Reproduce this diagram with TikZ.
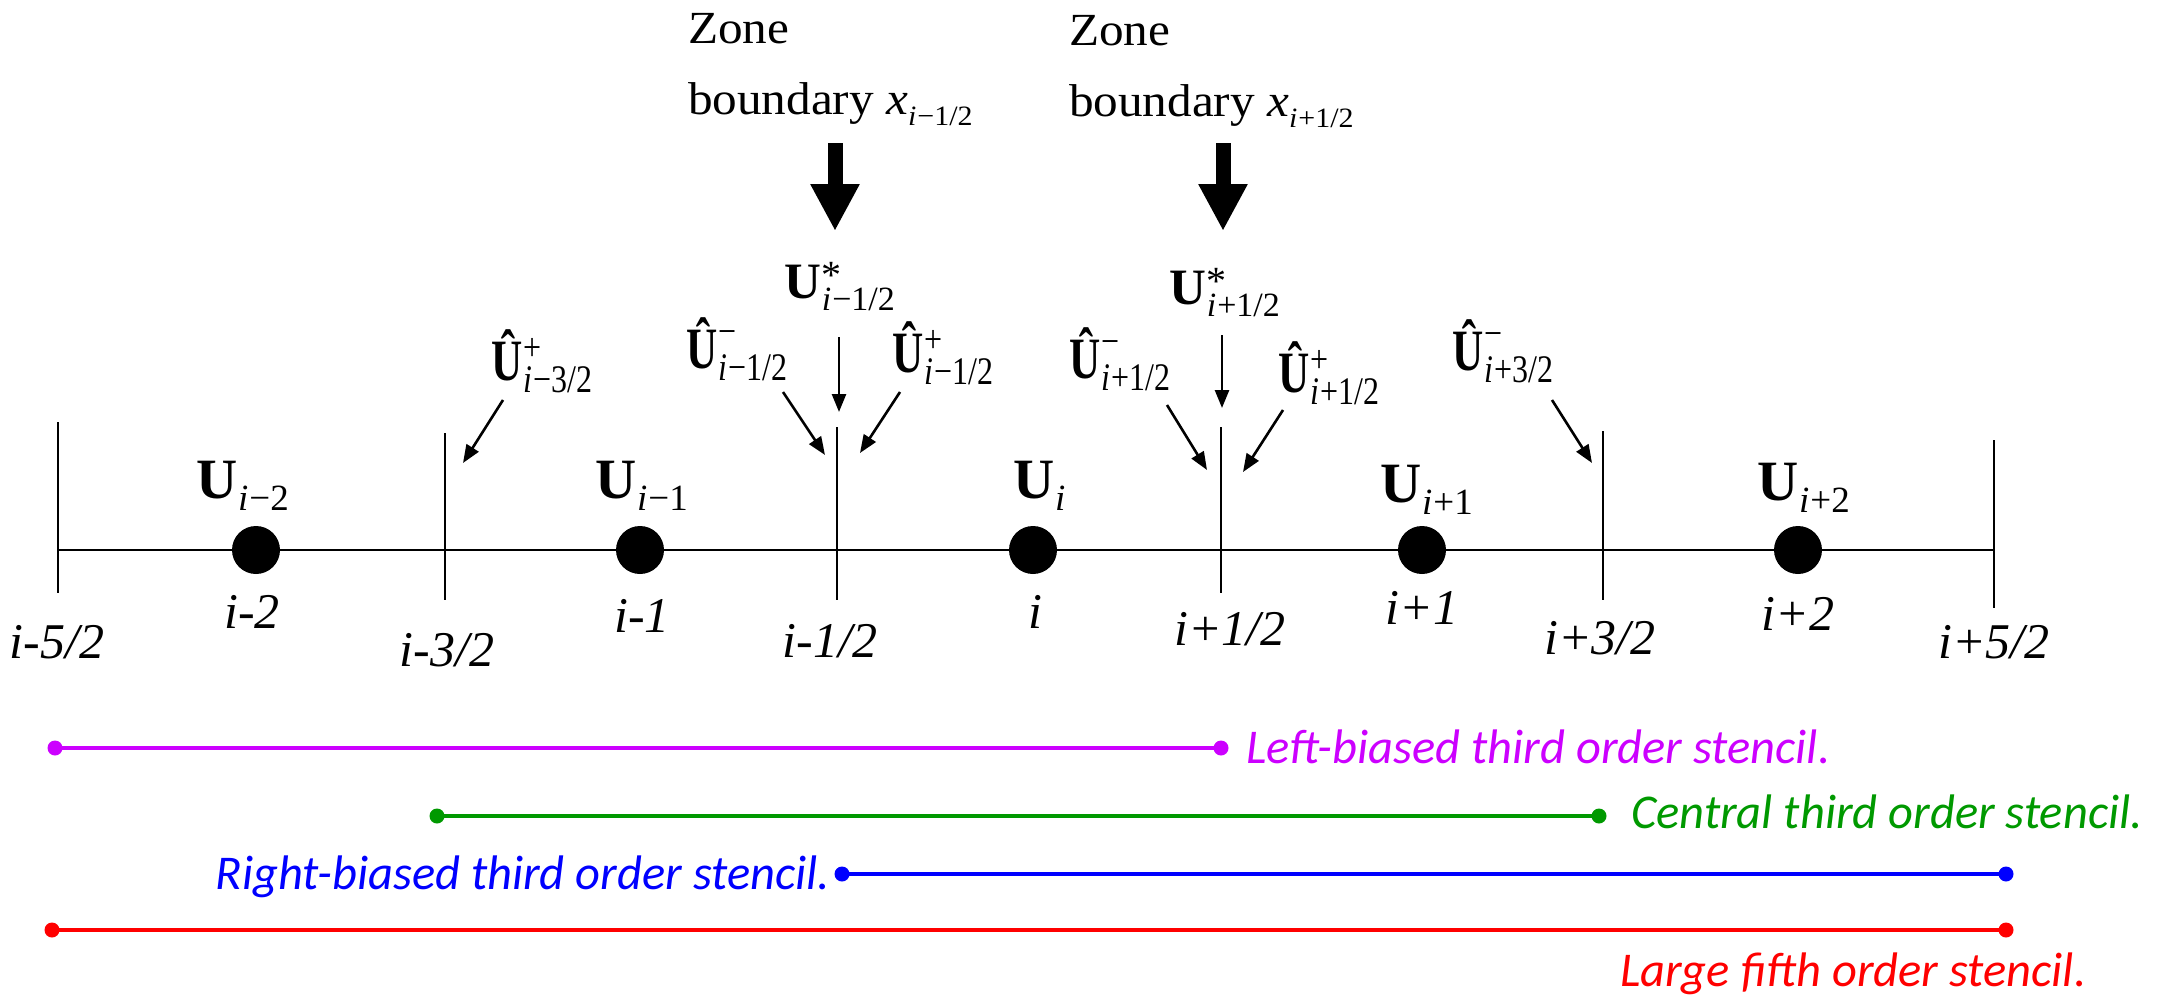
\documentclass[tikz,border=0pt]{standalone}
\usepackage{graphicx}
\usepackage{fontspec}
\setmainfont{Liberation Serif}
\newfontfamily\zonefont[FakeStretch=1.07]{Liberation Serif}
\newfontfamily\idxfont{Liberation Serif}
\newfontfamily\ufont[FakeStretch=0.9]{Liberation Serif}
\newfontfamily\stfont{Carlito}
\usetikzlibrary{arrows.meta}
\definecolor{cmag}{RGB}{204,0,255}
\definecolor{cgrn}{RGB}{0,153,0}
\definecolor{cblu}{RGB}{0,0,255}
\definecolor{cred}{RGB}{255,0,0}
\newcommand{\fs}[1]{\fontsize{#1}{#1}\selectfont}
\newcommand{\sbs}[1]{{\fs{28}#1}}
% hat labels: stretched-looking smaller labels
\newcommand{\hlab}[3]{\scalebox{1}[1.22]{{\ufont\bfseries\fs{48}Û}\kern1pt\makebox[0pt][l]{\raisebox{#2}{\fs{32}#1}}\raisebox{-10pt}{\fs{32}#3}}}
% generic label: #1 U size, #2 script size, #3 sup, #4 raise, #5 sub
\newcommand{\glab}[5]{{\bfseries\fs{#1}U}\kern1pt\makebox[0pt][l]{\raisebox{#4}{\fs{#2}#3}}\raisebox{-12pt}{\fs{#2}#5}}
\tikzset{
  txt/.style={inner sep=0pt, outer sep=0pt},
  zone/.style={txt, anchor=base west, font=\zonefont\fs{46}},
  idx/.style={txt, anchor=base, font=\idxfont\itshape\fs{50}},
  ulab/.style={txt, anchor=base west},
  tick/.style={line width=2.8pt},
  axis/.style={line width=2.8pt},
  dot/.style={fill=black},
  ptr/.style={line width=2.6pt, -{Triangle[length=18pt,width=14pt]}},
  bigarrow/.style={line width=15pt, -{Triangle[length=47pt,width=46pt]}},
  stencil/.style={line width=4pt},
  sdot/.style={radius=7.5pt},
  stxt/.style={txt, font=\stfont\itshape\fs{48.5}},
}
\begin{document}
\begin{tikzpicture}[x={(1pt,0pt)}, y={(0pt,-1pt)}]
\useasboundingbox (0,0) rectangle (2158,998);

% zone boundary texts
\node[zone] (z1) at (688,44) {Zone};
\node[zone] (b1) at (688,114) {boundary \textit{x}\raisebox{-11pt}{\sbs{\textit{i}\kern1pt−1/2}}};
\node[zone] (z2) at (1069,46) {Zone};
\node[zone] (b2) at (1069,116) {boundary \textit{x}\raisebox{-11pt}{\sbs{\textit{i}\kern1pt+1/2}}};

% big arrows
\coordinate (ba1s) at (835,143); \coordinate (ba1e) at (835,231);
\coordinate (ba2s) at (1223,143); \coordinate (ba2e) at (1223,231);
\draw[bigarrow] (ba1s) -- (ba1e);
\draw[bigarrow] (ba2s) -- (ba2e);

% interface labels
\node[ulab] (us1) at (784,298) {\glab{51}{34}{\fs{40}*}{10pt}{\textit{i}\kern1pt−1/2}};
\node[ulab] (us2) at (1169,304) {\glab{51}{34}{\fs{40}*}{10pt}{\textit{i}\kern1pt+1/2}};
\node[ulab] (um1) at (686,368) {\hlab{−}{19pt}{\textit{i}\kern1pt−1/2}};
\node[ulab] (up1) at (892,372) {\hlab{+}{16pt}{\textit{i}\kern1pt−1/2}};
\node[ulab] (up3) at (491,380) {\hlab{+}{16pt}{\textit{i}\kern1pt−3/2}};
\node[ulab] (um2) at (1069,378) {\hlab{−}{19pt}{\textit{i}\kern1pt+1/2}};
\node[ulab] (up2) at (1278,392) {\hlab{+}{16pt}{\textit{i}\kern1pt+1/2}};
\node[ulab] (um3) at (1452,370) {\hlab{−}{19pt}{\textit{i}\kern1pt+3/2}};

% small arrows
\coordinate (a1s) at (503,400); \coordinate (a1e) at (463,463);
\coordinate (a2s) at (783,392); \coordinate (a2e) at (825,455);
\coordinate (a3s) at (839,337); \coordinate (a3e) at (839,412);
\coordinate (a4s) at (900,392); \coordinate (a4e) at (860,453);
\coordinate (a5s) at (1167,405); \coordinate (a5e) at (1207,470);
\coordinate (a6s) at (1222,335); \coordinate (a6e) at (1222,408);
\coordinate (a7s) at (1283,410); \coordinate (a7e) at (1243,472);
\coordinate (a8s) at (1552,400); \coordinate (a8e) at (1592,463);
\foreach \k in {1,...,8} \draw[ptr] (a\k s) -- (a\k e);

% axis and ticks
\coordinate (ax0) at (58,550); \coordinate (ax1) at (1994,550);
\draw[axis] (ax0) -- (ax1);
\coordinate (t1a) at (58,422);  \coordinate (t1b) at (58,593);
\coordinate (t2a) at (445,433); \coordinate (t2b) at (445,600);
\coordinate (t3a) at (837,427); \coordinate (t3b) at (837,600);
\coordinate (t4a) at (1221,427); \coordinate (t4b) at (1221,593);
\coordinate (t5a) at (1603,431); \coordinate (t5b) at (1603,600);
\coordinate (t6a) at (1994,440); \coordinate (t6b) at (1994,608);
\foreach \k in {1,...,6} \draw[tick] (t\k a) -- (t\k b);

% cell dots
\foreach \xx/\nm in {256/d1,640/d2,1033/d3,1422/d4,1798/d5}
  \fill[dot] (\xx,550) circle[radius=24pt] coordinate (\nm);

% cell labels
\node[ulab] (c1) at (196,498) {\glab{57}{37}{}{0pt}{\textit{i}\kern1pt−2}};
\node[ulab] (c2) at (595,498) {\glab{57}{37}{}{0pt}{\textit{i}\kern1pt−1}};
\node[ulab] (c3) at (1013,498) {\glab{57}{37}{}{0pt}{\textit{i}}};
\node[ulab] (c4) at (1380,502) {\glab{57}{37}{}{0pt}{\textit{i}\kern1pt+1}};
\node[ulab] (c5) at (1757,500) {\glab{57}{37}{}{0pt}{\textit{i}\kern1pt+2}};

% index labels
\node[idx] (l1) at (57,658) {i-5/2};
\node[idx] (l2) at (252,628) {i-2};
\node[idx] (l3) at (447,666) {i-3/2};
\node[idx] (l4) at (642,632) {i-1};
\node[idx] (l5) at (830,657) {i-1/2};
\node[idx] (l6) at (1035,628) {i};
\node[idx] (l7) at (1230,645) {i+1/2};
\node[idx] (l8) at (1422,624) {i+1};
\node[idx] (l9) at (1600,654) {i+3/2};
\node[idx] (l10) at (1798,630) {i+2};
\node[idx] (l11) at (1994,658) {i+5/2};

% stencils
\coordinate (m0) at (55,748); \coordinate (m1) at (1221,748);
\coordinate (g0) at (437,816); \coordinate (g1) at (1599,816);
\coordinate (bl0) at (842,874); \coordinate (bl1) at (2006,874);
\coordinate (r0) at (52,930); \coordinate (r1) at (2006,930);
\draw[stencil, cmag] (m0) -- (m1);
\fill[cmag] (m0) circle[sdot] (m1) circle[sdot];
\draw[stencil, cgrn] (g0) -- (g1);
\fill[cgrn] (g0) circle[sdot] (g1) circle[sdot];
\draw[stencil, cblu] (bl0) -- (bl1);
\fill[cblu] (bl0) circle[sdot] (bl1) circle[sdot];
\draw[stencil, cred] (r0) -- (r1);
\fill[cred] (r0) circle[sdot] (r1) circle[sdot];

\node[stxt, anchor=base west, text=cmag] (sm) at (1246,763) {Left-biased third order stencil.};
\node[stxt, anchor=base west, text=cgrn] (sg) at (1631,828) {Central third order stencil.};
\node[stxt, anchor=base east, text=cblu] (sb) at (830,889) {Right-biased third order stencil.};
\node[stxt, anchor=base west, text=cred] (sr) at (1620,986) {Large fifth order stencil.};
\end{tikzpicture}
\end{document}
